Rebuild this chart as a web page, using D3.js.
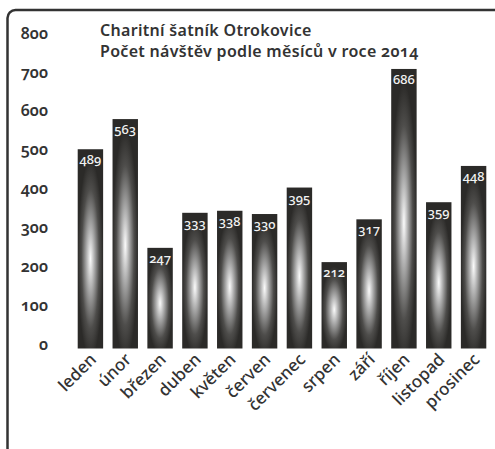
<!DOCTYPE html>
<html>
<head>
<meta charset="utf-8">
<script src="https://cdn.jsdelivr.net/npm/d3@7"></script>
<style>
  body { margin: 0; background: #fff; }
  svg text { font-family: "Noto Sans", sans-serif; font-feature-settings: "onum" 1; }
</style>
</head>
<body>
<div id="graph"></div>
<script>
const months = ["leden", "únor", "březen", "duben", "květen", "červen", "červenec", "srpen", "září", "říjen", "listopad", "prosinec"];
const visits = [489, 563, 247, 333, 338, 330, 395, 212, 317, 686, 359, 448];
const yTicks = [0, 100, 200, 300, 400, 500, 600, 700, 800];
const titleLines = ["Charitní šatník Otrokovice", "Počet návštěv podle měsíců v roce 2014"];

const width = 495, height = 449;

const svg = d3.select("#graph").append("svg")
  .attr("width", width).attr("height", height)
  .style("background", "white");

// frame (runs off the right and bottom edge)
svg.append("rect")
  .attr("x", 7.5).attr("y", 10)
  .attr("width", 520).attr("height", 446)
  .attr("rx", 8)
  .attr("fill", "none")
  .attr("stroke", "#333")
  .attr("stroke-width", 2.5);

const defs = svg.append("defs");
const grad = defs.append("radialGradient")
  .attr("id", "barGrad")
  .attr("cx", "50%").attr("cy", "55%").attr("r", "50%");
grad.append("stop").attr("offset", "0%").attr("stop-color", "#fbfbfb");
grad.append("stop").attr("offset", "30%").attr("stop-color", "#b0b0b0");
grad.append("stop").attr("offset", "70%").attr("stop-color", "#4e4d4b");
grad.append("stop").attr("offset", "100%").attr("stop-color", "#2b2a28");

const xScale = d3.scaleBand()
  .domain(months)
  .range([73, 491])
  .paddingInner(0.27)
  .paddingOuter(0.135);

const yScale = d3.scaleLinear()
  .domain([0, 800])
  .range([348.5, 22.5]);

// tick labels sit a little off the bar scale in the original
const yLabelScale = d3.scaleLinear()
  .domain([0, 800])
  .range([344, 33]);

const yAxis = d3.axisLeft(yLabelScale)
  .tickValues(yTicks)
  .tickSize(0)
  .tickPadding(0)
  .tickFormat(d3.format("d"));

const gy = svg.append("g")
  .attr("transform", "translate(48,0)")
  .call(yAxis);
gy.select(".domain").remove();
gy.selectAll("text")
  .attr("fill", "#333")
  .style("font-size", "16px")
  .style("font-weight", "600");

// bars
svg.append("g").selectAll("rect").data(visits)
  .enter().append("rect")
  .attr("x", (d, i) => xScale(months[i]))
  .attr("y", d => yScale(d))
  .attr("width", xScale.bandwidth())
  .attr("height", d => yScale(0) - yScale(d))
  .attr("fill", "url(#barGrad)");

// value labels
svg.append("g").selectAll("text").data(visits)
  .enter().append("text")
  .attr("x", (d, i) => xScale(months[i]) + xScale.bandwidth() / 2)
  .attr("y", d => yScale(d) + 15)
  .attr("text-anchor", "middle")
  .attr("fill", "#f2f2f2")
  .style("font-size", "13px")
  .style("font-weight", "500")
  .text(d => d);

// category labels
const xAxis = d3.axisBottom(xScale).tickSize(0).tickPadding(0);
const gx = svg.append("g")
  .attr("transform", `translate(0,${yScale(0)})`)
  .call(xAxis);
gx.select(".domain").remove();
gx.selectAll("text")
  .attr("fill", "#333")
  .attr("text-anchor", "end")
  .attr("dy", null)
  .attr("y", 0)
  .attr("transform", "translate(7,12) rotate(-45)")
  .style("font-size", "17px")
  .style("font-weight", "500");

// title
svg.append("g").selectAll("text").data(titleLines)
  .enter().append("text")
  .attr("x", 100)
  .attr("y", (d, i) => 36 + i * 21)
  .attr("fill", "#333")
  .style("font-size", "16px")
  .style("font-weight", "600")
  .style("letter-spacing", "0.3px")
  .text(d => d);
</script>
</body>
</html>
